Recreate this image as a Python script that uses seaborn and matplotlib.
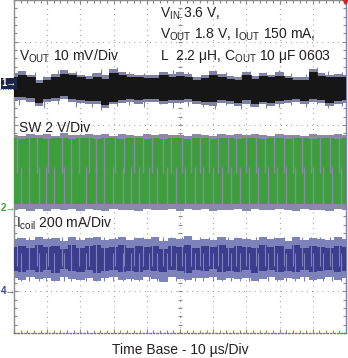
import numpy as np
import pandas as pd
import matplotlib
matplotlib.use("Agg")
import matplotlib.pyplot as plt
import matplotlib.transforms as mtransforms
from matplotlib.lines import Line2D
import seaborn as sns

# ---------------- data ----------------
# time samples of the envelopes, microseconds (10 us/div, 10 div)
t_us = [0, 2.5, 5, 7.5, 10, 12.5, 15, 17.5, 20, 22.5, 25, 27.5, 30, 32.5, 35, 37.5,
        40, 42.5, 45, 47.5, 50, 52.5, 55, 57.5, 60, 62.5, 65, 67.5, 70, 72.5, 75,
        77.5, 80, 82.5, 85, 87.5, 90, 92.5, 95, 97.5, 100]

# CH1 Vout ripple (mV, 10 mV/div): dense core and faint outer persistence
vout_core_hi = [1.6, 2.0, 1.5, 0.1, 0.8, 1.6, 2.2, 1.9, 1.5, 1.0, 1.6, 1.1, 2.4, 2.1, 1.6, 1.4,
                1.2, 1.3, 1.9, 1.6, 1.8, 1.6, 0.9, 1.2, 2.1, 1.6, 1.1, 0.9, 2.0, 1.0, 1.7,
                1.5, 1.8, 1.2, 0.7, 0.9, 2.6, 1.8, 1.5, 1.6, 1.4]
vout_core_lo = [-3.4, -3.2, -3.6, -4.7, -3.9, -3.5, -3.1, -3.7, -4.1, -4.3, -4.2, -5.2, -4.4, -4.0,
                -3.8, -4.1, -3.8, -3.9, -4.3, -4.1, -4.0, -3.9, -4.2, -4.5, -4.6, -4.1, -4.3,
                -4.8, -4.1, -5.0, -4.4, -4.7, -4.2, -4.0, -3.9, -4.2, -3.7, -4.1, -4.7, -4.2, -4.0]
vout_outer_hi = [2.4, 2.9, 2.0, 0.8, 1.6, 2.3, 3.1, 2.5, 2.1, 1.7, 2.4, 1.9, 3.4, 2.7, 2.3, 2.0,
                 1.9, 2.1, 2.8, 2.2, 2.6, 2.3, 1.5, 1.9, 2.9, 2.2, 1.8, 1.5, 2.7, 1.7, 2.4,
                 2.0, 2.6, 1.8, 1.4, 1.6, 3.5, 2.5, 2.1, 2.3, 2.0]
vout_outer_lo = [-4.2, -4.0, -4.5, -5.4, -4.6, -4.3, -3.9, -4.5, -4.8, -5.0, -4.9, -5.9, -5.1, -4.7,
                 -4.5, -4.9, -4.6, -4.6, -5.1, -4.8, -4.7, -4.6, -5.0, -5.2, -5.4, -4.8, -5.1,
                 -5.5, -4.9, -5.7, -5.1, -5.4, -5.0, -4.7, -4.6, -4.9, -4.4, -4.8, -5.4, -4.9, -4.7]
# isolated noise spikes of CH1 (us, mV)
vout_spike_t = [1.5, 6.2, 9.0, 13.4, 18.8, 23.5, 26.1, 31.0, 34.7, 39.2, 43.9, 48.0, 52.3,
                56.8, 60.5, 63.9, 68.4, 71.2, 76.0, 79.7, 83.3, 88.1, 91.4, 94.6, 98.9]
vout_spike_hi = [3.0, 2.6, 1.8, 3.2, 2.9, 2.5, 3.4, 3.8, 2.7, 2.4, 2.2, 3.1, 2.6, 2.0, 3.3,
                 2.8, 2.1, 3.0, 2.7, 3.2, 2.5, 2.2, 4.0, 2.9, 2.6]
vout_spike_lo = [-5.3, -5.0, -6.0, -4.9, -5.6, -5.8, -6.4, -5.5, -5.2, -5.7, -5.0, -5.9, -5.4,
                 -5.8, -6.1, -5.3, -6.2, -5.5, -5.9, -5.6, -5.2, -5.7, -5.0, -6.0, -5.4]

# CH2 SW node (V, 2 V/div)
sw_core_hi = [3.36, 3.34, 3.35, 3.37, 3.33, 3.35, 3.36, 3.34, 3.35, 3.36, 3.33, 3.35, 3.37, 3.34,
              3.35, 3.36, 3.34, 3.35, 3.33, 3.36, 3.35, 3.34, 3.36, 3.35, 3.33, 3.37, 3.35,
              3.34, 3.36, 3.35, 3.34, 3.36, 3.35, 3.33, 3.35, 3.36, 3.34, 3.35, 3.37, 3.34, 3.35]
sw_core_lo = [0.19, 0.20, 0.18, 0.19, 0.21, 0.19, 0.18, 0.20, 0.19, 0.18, 0.20, 0.19, 0.21, 0.19,
              0.18, 0.20, 0.19, 0.19, 0.21, 0.18, 0.19, 0.20, 0.19, 0.18, 0.20, 0.19, 0.21,
              0.19, 0.18, 0.20, 0.19, 0.18, 0.20, 0.19, 0.21, 0.19, 0.18, 0.20, 0.19, 0.18, 0.19]
sw_outer_hi = [3.52, 3.48, 3.58, 3.50, 3.55, 3.47, 3.60, 3.52, 3.49, 3.56, 3.50, 3.54, 3.48, 3.58,
               3.51, 3.47, 3.55, 3.50, 3.57, 3.49, 3.53, 3.48, 3.56, 3.51, 3.47, 3.58, 3.50,
               3.54, 3.49, 3.55, 3.52, 3.48, 3.57, 3.50, 3.53, 3.47, 3.56, 3.51, 3.49, 3.55, 3.50]
sw_outer_lo = [-0.08, -0.02, -0.12, -0.05, -0.15, -0.03, -0.10, -0.06, -0.14, -0.04, -0.09, -0.12,
               -0.02, -0.10, -0.07, -0.13, -0.04, -0.08, -0.11, -0.05, -0.16, -0.06, -0.09,
               -0.03, -0.12, -0.07, -0.10, -0.04, -0.14, -0.06, -0.08, -0.11, -0.03, -0.09,
               -0.13, -0.05, -0.10, -0.07, -0.12, -0.04, -0.08]
# switching edges visible as grey stripes inside the green band (us)
edge_hi_us = [0.8, 4.5, 7.0, 10.3, 14.6, 17.1, 19.6, 22.7, 24.7, 27.2, 30.4, 33.2, 36.0, 38.9,
              41.5, 44.8, 47.3, 50.6, 53.2, 55.9, 58.7, 61.4, 64.6, 67.0, 69.9, 72.8, 75.5,
              78.3, 81.2, 84.0, 86.6, 89.5, 92.3, 95.1, 97.8]
edge_lo_us = [2.1, 4.5, 7.6, 9.6, 12.1, 15.1, 17.1, 21.7, 24.7, 27.2, 29.7, 32.7, 35.3, 37.8,
              40.6, 43.2, 46.1, 48.7, 51.6, 54.4, 57.0, 59.9, 62.6, 65.3, 68.1, 70.8, 73.6,
              76.4, 79.1, 82.0, 84.7, 87.4, 90.2, 93.0, 95.7, 98.5]

# CH4 coil current (mA, 200 mA/div)
il_core_hi = [214, 220, 208, 222, 212, 218, 206, 224, 210, 216, 221, 207, 215, 223, 209, 217,
              212, 220, 206, 218, 213, 222, 208, 216, 211, 224, 207, 219, 214, 209, 221, 212,
              217, 206, 223, 210, 218, 213, 207, 220, 215]
il_core_lo = [98, 92, 104, 95, 101, 90, 106, 96, 93, 102, 89, 99, 105, 94, 100, 91, 103, 97, 92,
              104, 96, 90, 101, 98, 107, 93, 99, 95, 102, 89, 97, 104, 92, 100, 95, 103, 91, 98,
              105, 94, 99]
il_outer_hi = [252, 258, 246, 262, 250, 255, 244, 260, 249, 256, 263, 245, 253, 259, 247, 255,
               251, 261, 243, 257, 252, 264, 246, 254, 249, 262, 245, 258, 253, 247, 260, 250,
               256, 244, 261, 248, 257, 251, 246, 259, 254]
il_outer_lo = [62, 55, 68, 58, 64, 52, 70, 60, 56, 66, 50, 63, 69, 57, 61, 54, 67, 59, 45, 68,
               60, 53, 64, 62, 71, 56, 63, 58, 66, 51, 60, 68, 55, 64, 58, 67, 54, 61, 69, 57, 62]

label_vin = r"V$_{\mathregular{IN}}$ 3.6 V,"
label_vout_cond = r"V$_{\mathregular{OUT}}$ 1.8 V, I$_{\mathregular{OUT}}$ 150 mA,"
label_lc = r"L  2.2 $\mathregular{\mu}$H, C$_{\mathregular{OUT}}$ 10 $\mathregular{\mu}$F 0603"
label_ch1 = r"V$_{\mathregular{OUT}}$ 10 mV/Div"
label_ch2 = "SW 2 V/Div"
label_ch4 = r"I$_{\mathregular{coil}}$ 200 mA/Div"
label_time = "Time Base - 10 µs/Div"

# channel scales (units per division) and reference levels (division index)
ch1_scale, ch1_ref = 10.0, 6.0
ch2_scale, ch2_ref = 2.0, 3.0
ch4_scale, ch4_ref = 200.0, 1.0

# ---------------- styling ----------------
sns.set_theme(style="white")
plt.rcParams["font.family"] = ["Liberation Sans", "DejaVu Sans"]
plt.rcParams["mathtext.fontset"] = "custom"
plt.rcParams["mathtext.rm"] = "Liberation Sans"
plt.rcParams["mathtext.it"] = "Liberation Sans"
plt.rcParams["mathtext.default"] = "regular"

GREEN = "#3d9f3c"
SW_GREY = "#8a8aa8"
BLACK = "#161616"
V_GREY = "#7f82a2"
BLUE_D = "#3b3e8d"
BLUE_L = "#7d82ba"
TXT = "#231f20"
GRID = "#8a8a8a"

df = pd.DataFrame({
    "t": t_us,
    "v_hi": ch1_ref + np.array(vout_core_hi) / ch1_scale,
    "v_lo": ch1_ref + np.array(vout_core_lo) / ch1_scale,
    "v_ohi": ch1_ref + np.array(vout_outer_hi) / ch1_scale,
    "v_olo": ch1_ref + np.array(vout_outer_lo) / ch1_scale,
    "s_hi": ch2_ref + np.array(sw_core_hi) / ch2_scale,
    "s_lo": ch2_ref + np.array(sw_core_lo) / ch2_scale,
    "s_ohi": ch2_ref + np.array(sw_outer_hi) / ch2_scale,
    "s_olo": ch2_ref + np.array(sw_outer_lo) / ch2_scale,
    "i_hi": ch4_ref + np.array(il_core_hi) / ch4_scale,
    "i_lo": ch4_ref + np.array(il_core_lo) / ch4_scale,
    "i_ohi": ch4_ref + np.array(il_outer_hi) / ch4_scale,
    "i_olo": ch4_ref + np.array(il_outer_lo) / ch4_scale,
})

W, H, DPI = 348, 358, 100
fig = plt.figure(figsize=(W / DPI, H / DPI), dpi=DPI)
ax = fig.add_axes([14 / W, (H - 333) / H, (346 - 14) / W, 333 / H])
ax.set_xlim(0, 100)
ax.set_ylim(0, 8)

# grid (dotted, scope style)
for gx in np.arange(10, 100, 10):
    ax.axvline(gx, color=GRID, lw=0.8, ls=(0, (0.7, 4.0)), zorder=1)
for gy in np.arange(1, 8, 1):
    ax.axhline(gy, color=GRID, lw=0.8, ls=(0, (0.7, 4.0)), zorder=1)

# ----- CH4 coil current -----
ax.fill_between(df["t"], df["i_olo"], df["i_ohi"], step="mid", color=BLUE_L, lw=0, zorder=2)
ax.fill_between(df["t"], df["i_lo"], df["i_hi"], step="mid", color=BLUE_D, lw=0, zorder=3)
ax.vlines(edge_hi_us, ch4_ref + 120 / ch4_scale, ch4_ref + 262 / ch4_scale,
          color=BLUE_L, lw=0.8, zorder=4)
ax.vlines(edge_lo_us, ch4_ref + 48 / ch4_scale, ch4_ref + 185 / ch4_scale,
          color=BLUE_L, lw=0.8, zorder=4)

# ----- CH2 switch node -----
ax.fill_between(df["t"], df["s_olo"], df["s_ohi"], step="mid", color=SW_GREY, lw=0, zorder=2)
ax.fill_between(df["t"], df["s_lo"], df["s_hi"], step="mid", color=GREEN, lw=0, zorder=3)
ax.vlines(edge_hi_us, ch2_ref + 1.7 / ch2_scale, ch2_ref + 3.45 / ch2_scale,
          color=SW_GREY, lw=1.0, zorder=4)
ax.vlines(edge_lo_us, ch2_ref + 0.05 / ch2_scale, ch2_ref + 2.0 / ch2_scale,
          color=SW_GREY, lw=1.0, zorder=4)

# ----- CH1 output voltage -----
ax.fill_between(df["t"], df["v_olo"], df["v_ohi"], step="mid", color=V_GREY, lw=0, zorder=2)
ax.vlines(vout_spike_t, ch1_ref + np.array(vout_spike_lo) / ch1_scale,
          ch1_ref + np.array(vout_spike_hi) / ch1_scale, color=V_GREY, lw=0.8, zorder=2)
ax.fill_between(df["t"], df["v_lo"], df["v_hi"], step="mid", color=BLACK, lw=0, zorder=3)
sns.lineplot(data=df, x="t", y="v_hi", ax=ax, color=BLACK, lw=0.6,
             drawstyle="steps-mid", zorder=3, legend=False)

# centre cross-hair minor ticks
cx = np.arange(0, 100.01, 2)
ax.plot(cx, np.full_like(cx, 4.0), ls="none", marker="|", ms=3, mew=0.8, color=GRID, zorder=1)
cy = np.arange(0, 8.01, 0.2)
ax.plot(np.full_like(cy, 50.0), cy, ls="none", marker="_", ms=3, mew=0.8, color=GRID, zorder=1)

# frame
ax.set_xticks(np.arange(0, 101, 10))
ax.set_yticks(np.arange(0, 9, 1))
ax.set_xticks(np.arange(0, 101, 2), minor=True)
ax.set_yticks(np.arange(0, 8.01, 0.2), minor=True)
ax.tick_params(which="both", direction="in", top=True, right=True, bottom=True, left=True,
               labelbottom=False, labelleft=False, color=GRID, width=0.8)
ax.tick_params(which="major", length=3)
ax.tick_params(which="minor", length=2)
for s in ["left", "top"]:
    ax.spines[s].set_color(GRID)
    ax.spines[s].set_linewidth(1.0)
ax.spines["right"].set_color(BLUE_L)
ax.spines["right"].set_linewidth(1.0)
ax.spines["bottom"].set_color(GREEN)
ax.spines["bottom"].set_linewidth(1.0)
ax.spines["bottom"].set_linestyle((0, (1, 1.5)))
ax.grid(False)
ax.set_xlabel("")
ax.set_ylabel("")

# annotations
x_cond = (160 - 14) / 332 * 100
ax.text(x_cond, 8 - 14 / 41.6, label_vin, fontsize=10,
        color=TXT, va="center", ha="left", zorder=6)
ax.text(x_cond, 8 - 35 / 41.6, label_vout_cond, fontsize=10,
        color=TXT, va="center", ha="left", zorder=6)
ax.text(x_cond, 8 - 56 / 41.6, label_lc, fontsize=10,
        color=TXT, va="center", ha="left", zorder=6)
ax.text((19 - 14) / 332 * 100, 8 - 56 / 41.6, label_ch1, fontsize=10,
        color=TXT, va="center", ha="left", zorder=6)
ax.text((19 - 14) / 332 * 100, 8 - 128 / 41.6, label_ch2, fontsize=10,
        color=TXT, va="center", ha="left", zorder=6)
ax.text((16 - 14) / 332 * 100, 8 - 223 / 41.6, label_ch4, fontsize=10,
        color=TXT, va="center", ha="left", zorder=6)
fig.text(180 / W, 1 - 350 / H, label_time, fontsize=10, color=TXT, ha="center", va="center")

# channel markers on the left edge
trans = mtransforms.blended_transform_factory(fig.transFigure, ax.transData)
ax.text(1 / W, ch1_ref, "1\u2192", transform=trans, fontsize=7, color="white", va="center",
        ha="left", fontweight="bold",
        bbox=dict(boxstyle="square,pad=0.05", fc="#1e2548", ec="none"), clip_on=False)
fig.add_artist(Line2D([0, 14 / W], [1 - 89 / H, 1 - 89 / H], color=GREEN, lw=0.8,
                      ls=(0, (1, 1.2))))
ax.text(1 / W, ch2_ref, "2\u2192", transform=trans, fontsize=7, color=GREEN, va="center",
        ha="left", fontweight="bold", clip_on=False)
ax.text(1 / W, ch4_ref, "4\u2192", transform=trans, fontsize=7, color=BLUE_D, va="center",
        ha="left", fontweight="bold", clip_on=False)

# trigger marker (top right)
ax.plot([99.6], [7.97], marker="v", ms=5, color="#e0201b", clip_on=False, zorder=7)

fig.savefig("out.png", dpi=DPI)
